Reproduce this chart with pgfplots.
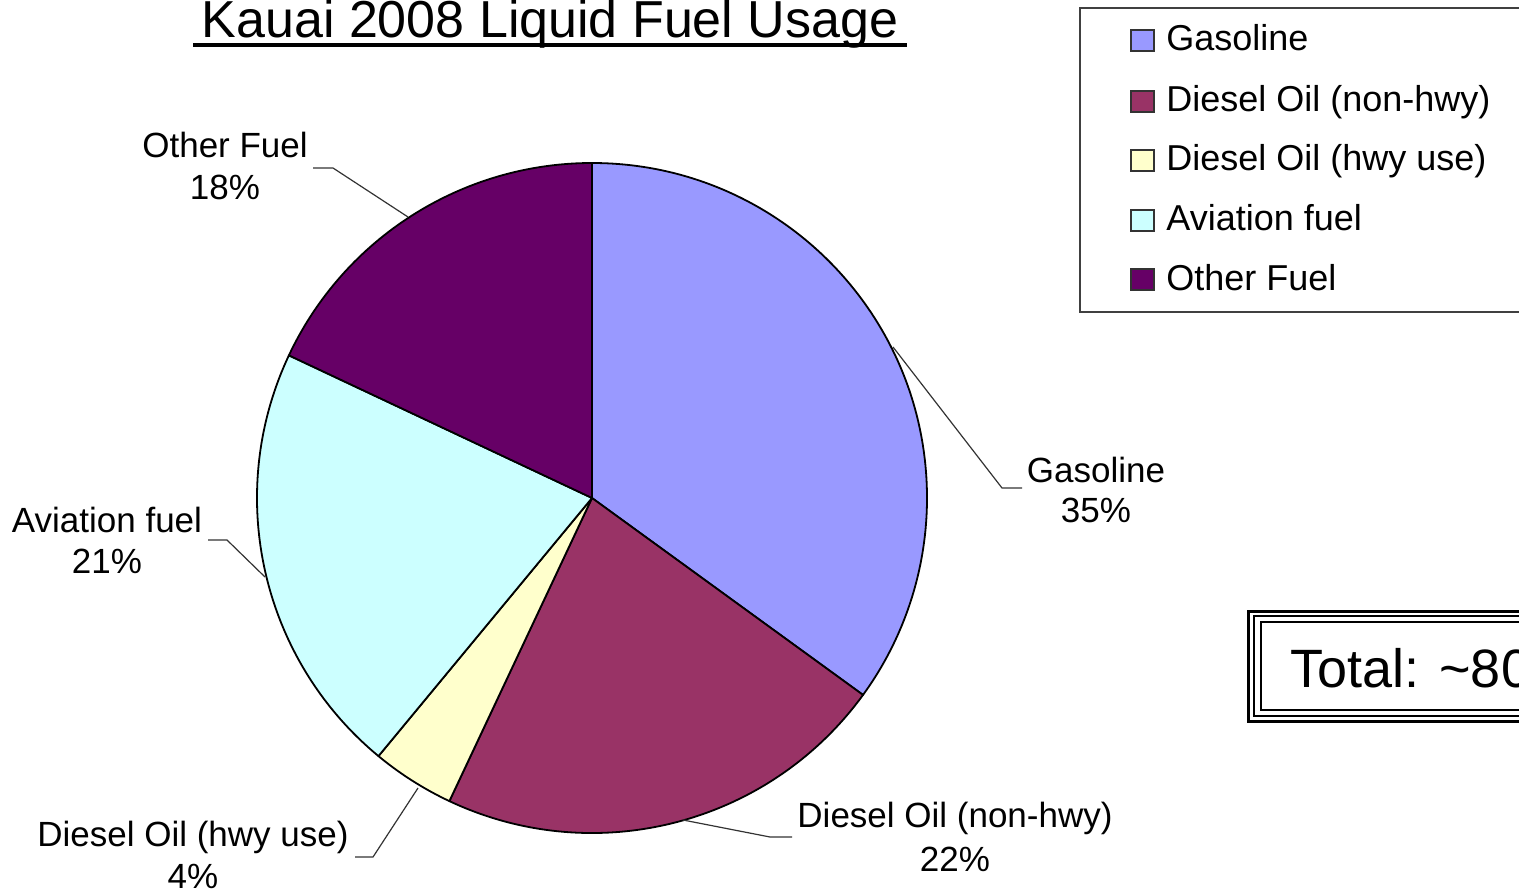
\documentclass[border=0pt]{standalone}
\usepackage{fontspec}
\setmainfont{Liberation Sans}
\usepackage{pgfplots}
\usepackage{pgfplotstable}
\pgfplotsset{compat=1.18}
\definecolor{slice0}{HTML}{9999FF}
\definecolor{slice1}{HTML}{993366}
\definecolor{slice2}{HTML}{FFFFCC}
\definecolor{slice3}{HTML}{CCFFFF}
\definecolor{slice4}{HTML}{660066}
\pgfplotstableread[col sep=comma]{
name,value
Gasoline,35
Diesel Oil (non-hwy),22
Diesel Oil (hwy use),4
Aviation fuel,21
Other Fuel,18
}\piedata
\newcommand\lbl{\fontsize{17.5}{21}\selectfont}
\newcommand\lgd{\fontsize{18}{21}\selectfont}
\begin{document}
\begin{tikzpicture}
\begin{axis}[scale only axis,
  width=759.5pt, height=446.5pt, xmin=0, xmax=1519, ymin=0, ymax=893,
  y dir=reverse, hide axis, clip=true, clip bounding box=upper bound]
\addplot[draw=none, forget plot] coordinates {(0,0) (1519,893)};
% pie slices from the table
\gdef\cumangle{90}
\pgfplotsforeachungrouped \i in {0,...,4}{%
  \pgfplotstablegetelem{\i}{value}\of\piedata
  \pgfmathsetmacro\endangle{\cumangle-3.6*\pgfplotsretval}%
  \edef\temp{\noexpand\filldraw[fill=slice\i, draw=black, line width=0.9pt, line join=round]
    (axis cs:592,498) -- ++(\cumangle:167.5pt)
    arc[start angle=\cumangle, end angle=\endangle, radius=167.5pt] -- cycle;}%
  \temp
  \global\let\cumangle\endangle
}
% leader lines
\draw[black!80, line width=0.6pt] (axis cs:893,347) -- (axis cs:1002,488) -- (axis cs:1022,488);
\draw[black!80, line width=0.6pt] (axis cs:683,820) -- (axis cs:770,837) -- (axis cs:792,837);
\draw[black!80, line width=0.6pt] (axis cs:418,788) -- (axis cs:373,857) -- (axis cs:355,857);
\draw[black!80, line width=0.6pt] (axis cs:265,577) -- (axis cs:227,540) -- (axis cs:208,540);
\draw[black!80, line width=0.6pt] (axis cs:408,217) -- (axis cs:333,168) -- (axis cs:313,168);
% slice labels
\node[anchor=base, inner sep=0, font=\lbl] at (axis cs:1096,482) {Gasoline};
\node[anchor=base, inner sep=0, font=\lbl] at (axis cs:1096,522) {35\%};
\node[anchor=base, inner sep=0, font=\lbl] at (axis cs:955,827) {Diesel Oil (non-hwy)};
\node[anchor=base, inner sep=0, font=\lbl] at (axis cs:955,871) {22\%};
\node[anchor=base, inner sep=0, font=\lbl] at (axis cs:193,846) {Diesel Oil (hwy use)};
\node[anchor=base, inner sep=0, font=\lbl] at (axis cs:193,888) {4\%};
\node[anchor=base, inner sep=0, font=\lbl] at (axis cs:107,532) {Aviation fuel};
\node[anchor=base, inner sep=0, font=\lbl] at (axis cs:107,573) {21\%};
\node[anchor=base, inner sep=0, font=\lbl] at (axis cs:225,158) {Other Fuel};
\node[anchor=base, inner sep=0, font=\lbl] at (axis cs:225,200) {18\%};
% title
\node[anchor=base, inner sep=0, font=\fontsize{26}{30}\selectfont] at (axis cs:550,38) {Kauai 2008 Liquid Fuel Usage};
\draw[line width=2pt] (axis cs:193,45) -- (axis cs:907,45);
% legend
\draw[black!75, line width=1pt] (axis cs:1080,8) rectangle (axis cs:1600,312);
\filldraw[fill=slice0, draw=black!80, line width=0.6pt] (axis cs:1131,30) rectangle (axis cs:1154,51);
\filldraw[fill=slice1, draw=black!80, line width=0.6pt] (axis cs:1131,91) rectangle (axis cs:1154,112);
\filldraw[fill=slice2, draw=black!80, line width=0.6pt] (axis cs:1131,150) rectangle (axis cs:1154,171);
\filldraw[fill=slice3, draw=black!80, line width=0.6pt] (axis cs:1131,210) rectangle (axis cs:1154,231);
\filldraw[fill=slice4, draw=black!80, line width=0.6pt] (axis cs:1131,269) rectangle (axis cs:1154,290);
\node[anchor=base west, inner sep=0, font=\lgd] at (axis cs:1166,51) {Gasoline};
\node[anchor=base west, inner sep=0, font=\lgd] at (axis cs:1166,112) {Diesel Oil (non-hwy)};
\node[anchor=base west, inner sep=0, font=\lgd] at (axis cs:1166,171) {Diesel Oil (hwy use)};
\node[anchor=base west, inner sep=0, font=\lgd] at (axis cs:1166,231) {Aviation fuel};
\node[anchor=base west, inner sep=0, font=\lgd] at (axis cs:1166,290) {Other Fuel};
% total box
\draw[line width=1.5pt] (axis cs:1248,611) rectangle (axis cs:1700,721);
\draw[line width=1pt] (axis cs:1254,616) rectangle (axis cs:1700,716);
\draw[line width=1.2pt] (axis cs:1261,622) rectangle (axis cs:1700,710);
\node[anchor=base west, inner sep=0, font=\fontsize{27}{30}\selectfont] at (axis cs:1290,687) {Total: \textasciitilde 80 million gallons};
\end{axis}
\end{tikzpicture}
\end{document}
